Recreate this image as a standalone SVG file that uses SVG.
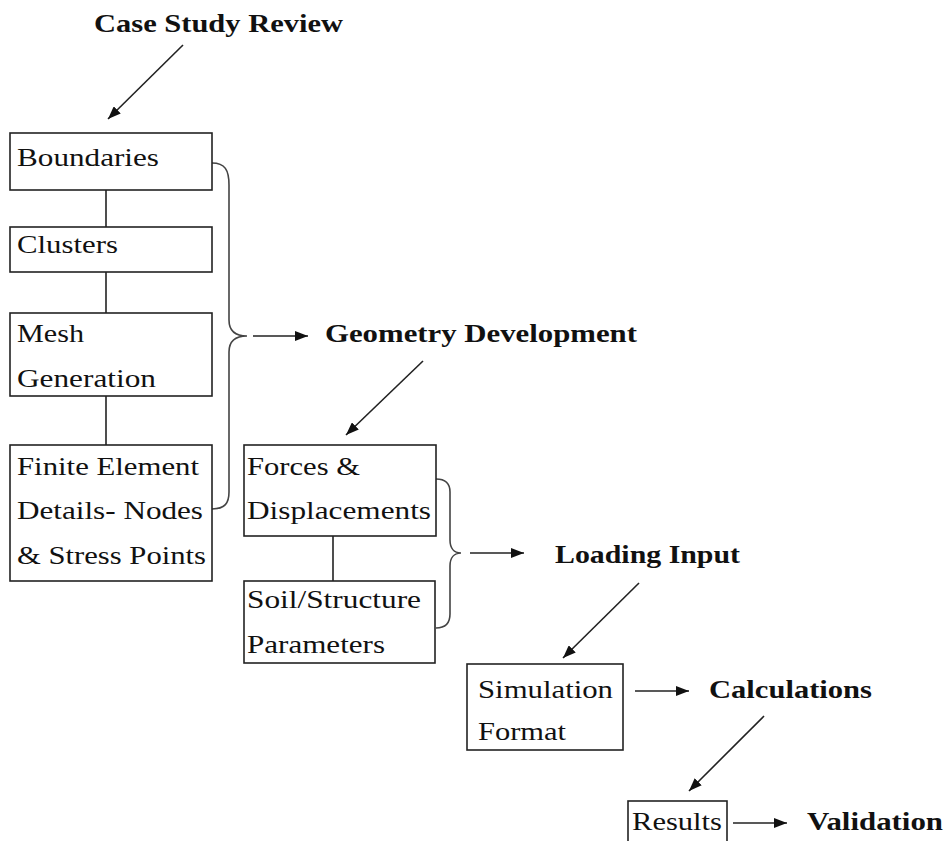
<svg xmlns="http://www.w3.org/2000/svg" width="948" height="841" viewBox="0 0 948 841">
<style>
.box{fill:#fff;stroke:#222;stroke-width:1.6}
.t{font-family:"Liberation Serif","Times New Roman",serif;font-size:26px;fill:#111}
.b{font-family:"Liberation Serif","Times New Roman",serif;font-size:26px;font-weight:bold;fill:#111}
.ln{stroke:#222;stroke-width:1.6;fill:none}
.ar{stroke:#222;stroke-width:1.6;fill:none;marker-end:url(#ah)}
.br{stroke:#444;stroke-width:1.6;fill:none}
</style>
<defs>
<marker id="ah" markerUnits="userSpaceOnUse" markerWidth="13" markerHeight="10" refX="13" refY="5" orient="auto">
<path d="M0,0 L13,5 L0,10 z" fill="#111"/>
</marker>
</defs>
<rect width="948" height="841" fill="#fff"/>
<g id="connectors">
<line class="ar" x1="183" y1="45" x2="108" y2="119"/>
<line class="ln" x1="106" y1="190" x2="106" y2="227"/>
<line class="ln" x1="106" y1="272" x2="106" y2="313"/>
<line class="ln" x1="106" y1="396" x2="106" y2="445"/>
<path class="br" d="M212,163 C225,163 229,170 229,185 L229,320 C229,330 235,336 247,336 C235,336 229,342 229,352 L229,492 C229,503 225,509 212,509"/>
<line class="ar" x1="253" y1="336" x2="308" y2="336"/>
<line class="ar" x1="423" y1="361" x2="346" y2="435"/>
<line class="ln" x1="333" y1="536" x2="333" y2="581"/>
<path class="br" d="M436,479 C446,479 450,484 450,492 L450,540 C450,548 454,553 461,553 C454,553 450,558 450,566 L450,614 C450,622 446,628 436,628"/>
<line class="ar" x1="470" y1="553" x2="524" y2="553"/>
<line class="ar" x1="639" y1="583" x2="563" y2="658"/>
<line class="ar" x1="635" y1="691" x2="689" y2="691"/>
<line class="ar" x1="764" y1="716" x2="689" y2="791"/>
<line class="ar" x1="733" y1="823" x2="787" y2="823"/>
</g>
<g id="case-study-review"><text class="b" x="94" y="32" textLength="249" lengthAdjust="spacingAndGlyphs">Case Study Review</text></g>
<g id="boundaries"><rect class="box" x="10" y="133" width="202" height="57"/><text class="t" x="17" y="166" textLength="142" lengthAdjust="spacingAndGlyphs">Boundaries</text></g>
<g id="clusters"><rect class="box" x="10" y="227" width="202" height="45"/><text class="t" x="17" y="253" textLength="101" lengthAdjust="spacingAndGlyphs">Clusters</text></g>
<g id="mesh-generation"><rect class="box" x="10" y="313" width="202" height="83"/><text class="t" x="17" y="342" textLength="67" lengthAdjust="spacingAndGlyphs">Mesh</text><text class="t" x="17" y="387" textLength="139" lengthAdjust="spacingAndGlyphs">Generation</text></g>
<g id="finite-element"><rect class="box" x="10" y="445" width="202" height="136"/><text class="t" x="17" y="475" textLength="182" lengthAdjust="spacingAndGlyphs">Finite Element</text><text class="t" x="17" y="519" textLength="186" lengthAdjust="spacingAndGlyphs">Details- Nodes</text><text class="t" x="17" y="564" textLength="189" lengthAdjust="spacingAndGlyphs">&amp; Stress Points</text></g>
<g id="geometry-development"><text class="b" x="325" y="342" textLength="312" lengthAdjust="spacingAndGlyphs">Geometry Development</text></g>
<g id="forces-displacements"><rect class="box" x="244" y="445" width="192" height="91"/><text class="t" x="247" y="475" textLength="113" lengthAdjust="spacingAndGlyphs">Forces &amp;</text><text class="t" x="247" y="519" textLength="184" lengthAdjust="spacingAndGlyphs">Displacements</text></g>
<g id="soil-structure"><rect class="box" x="244" y="581" width="191" height="82"/><text class="t" x="247" y="608" textLength="174" lengthAdjust="spacingAndGlyphs">Soil/Structure</text><text class="t" x="247" y="653" textLength="138" lengthAdjust="spacingAndGlyphs">Parameters</text></g>
<g id="loading-input"><text class="b" x="555" y="563" textLength="185" lengthAdjust="spacingAndGlyphs">Loading Input</text></g>
<g id="simulation-format"><rect class="box" x="467" y="664" width="156" height="86"/><text class="t" x="478" y="698" textLength="135" lengthAdjust="spacingAndGlyphs">Simulation</text><text class="t" x="478" y="740" textLength="88" lengthAdjust="spacingAndGlyphs">Format</text></g>
<g id="calculations"><text class="b" x="709" y="698" textLength="163" lengthAdjust="spacingAndGlyphs">Calculations</text></g>
<g id="results"><rect class="box" x="628" y="801" width="99" height="50"/><text class="t" x="632" y="830" textLength="90" lengthAdjust="spacingAndGlyphs">Results</text></g>
<g id="validation"><text class="b" x="807" y="830" textLength="136" lengthAdjust="spacingAndGlyphs">Validation</text></g>
</svg>
